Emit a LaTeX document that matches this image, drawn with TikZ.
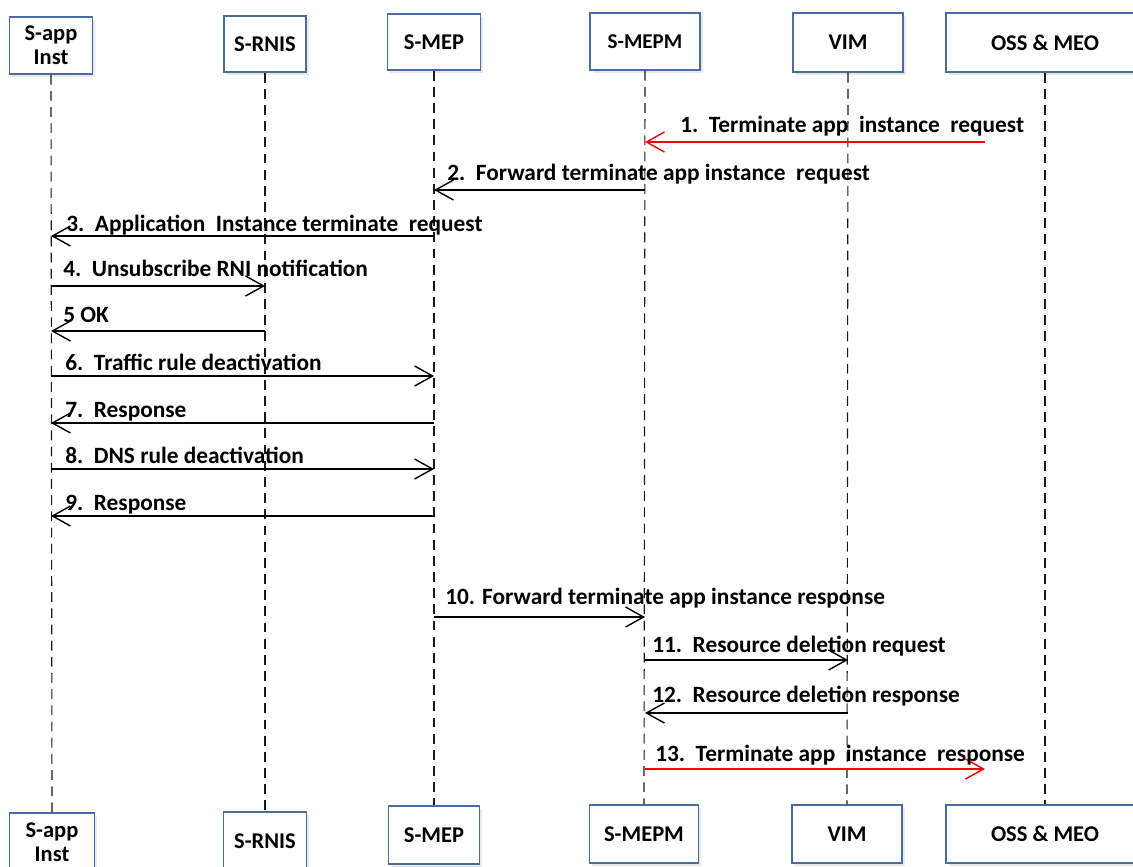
\documentclass[tikz,border=0pt]{standalone}
\usepackage{fontspec}
\setmainfont{Carlito}
\usetikzlibrary{arrows.meta,shadows}

\definecolor{boxblue}{RGB}{74,108,160}

\tikzset{
  entity/.style={draw=boxblue, line width=1pt, fill=white, align=center,
    font=\bfseries\fontsize{16}{17}\selectfont, inner sep=0pt,
    drop shadow={opacity=0.18, shadow xshift=2pt, shadow yshift=-2pt}},
  life/.style={black!90, line width=0.8pt, dash pattern=on 7pt off 4.5pt},
  msg/.style={line width=1pt},
  lbl/.style={font=\bfseries\fontsize{16.6}{18}\selectfont, anchor=base west, inner sep=0pt},
}

\begin{document}
\begin{tikzpicture}[x=0.025cm, y=-0.025cm, >={Straight Barb[length=4.5mm, width=5mm]}]
  \useasboundingbox (0,0) rectangle (1133,867);

  % top row
  \node[entity, minimum width=2.075cm, minimum height=1.425cm] (app) at (51,45.5) {S-app\\Inst};
  \node[entity, minimum width=2.05cm, minimum height=1.4cm] (rnis) at (265,44) {S-RNIS};
  \node[entity, minimum width=2.325cm, minimum height=1.4cm] (mep) at (434,42) {S-MEP};
  \node[entity, minimum width=2.75cm, minimum height=1.425cm, font=\bfseries\fontsize{15}{17}\selectfont] (mepm) at (645,41.5) {S-MEPM};
  \node[entity, minimum width=2.75cm, minimum height=1.475cm] (vim) at (848,42.5) {VIM};
  \node[entity, minimum width=4.95cm, minimum height=1.475cm] (oss) at (1045,42.5) {OSS \& MEO};

  % bottom row
  \node[entity, minimum width=2.125cm, minimum height=1.45cm] (appB) at (52,842) {S-app\\Inst};
  \node[entity, minimum width=2.075cm, minimum height=1.45cm] (rnisB) at (265,841) {S-RNIS};
  \node[entity, minimum width=2.275cm, minimum height=1.45cm] (mepB) at (434,835) {S-MEP};
  \node[entity, minimum width=2.725cm, minimum height=1.45cm] (mepmB) at (644,834) {S-MEPM};
  \node[entity, minimum width=2.75cm, minimum height=1.45cm] (vimB) at (847,834) {VIM};
  \node[entity, minimum width=4.95cm, minimum height=1.45cm] (ossB) at (1045,834) {OSS \& MEO};

  % lifelines
  \foreach \a in {app,rnis,mep,mepm,vim,oss}
    \draw[life] (\a.south) -- (\a B.north);

  % free ends on the OSS side
  \coordinate (req) at (985,142);
  \coordinate (rsp) at (985,769);

  % messages
  \draw[->, msg, red] (req) -- (mepm |- req);
  \node[lbl] (t1) at (680,133) {1.\ \ Terminate app\ \ instance\ \ request};
  \draw[<-, msg] (mep |- 0,190) -- (mepm |- 0,190);
  \node[lbl] (t2) at (447,180) {2.\ \ Forward terminate app instance\ \ request};
  \draw[<-, msg] (app |- 0,236) -- (mep |- 0,236);
  \node[lbl] (t3) at (66,231) {3.\ \ Application\ \ Instance terminate\ \ request};
  \draw[->, msg] (app |- 0,286) -- (rnis |- 0,286);
  \node[lbl] (t4) at (63,276) {4.\ \ Unsubscribe RNI notification};
  \draw[<-, msg] (app |- 0,331) -- (rnis |- 0,331);
  \node[lbl] (t5) at (63,322) {5 OK};
  \draw[->, msg] (app |- 0,376) -- (mep |- 0,376);
  \node[lbl] (t6) at (65,370) {6.\ \ Traffic rule deactivation};
  \draw[<-, msg] (app |- 0,423) -- (mep |- 0,423);
  \node[lbl] (t7) at (65,417) {7.\ \ Response};
  \draw[->, msg] (app |- 0,469) -- (mep |- 0,469);
  \node[lbl] (t8) at (65,463) {8.\ \ DNS rule deactivation};
  \draw[<-, msg] (app |- 0,516) -- (mep |- 0,516);
  \node[lbl] (t9) at (65,510) {9.\ \ Response};
  \draw[->, msg] (mep |- 0,617) -- (mepm |- 0,617);
  \node[lbl] (t10) at (445,604) {10. Forward terminate app instance response};
  \draw[->, msg] (mepm |- 0,660) -- (vim |- 0,660);
  \node[lbl] (t11) at (652,652) {11.\ \ Resource deletion request};
  \draw[<-, msg] (mepm |- 0,713) -- (vim |- 0,713);
  \node[lbl] (t12) at (652,702) {12.\ \ Resource deletion response};
  \draw[->, msg, red] (mepm |- rsp) -- (rsp);
  \node[lbl] (t13) at (655,761) {13.\ \ Terminate app\ \ instance\ \ response};
\end{tikzpicture}
\end{document}
